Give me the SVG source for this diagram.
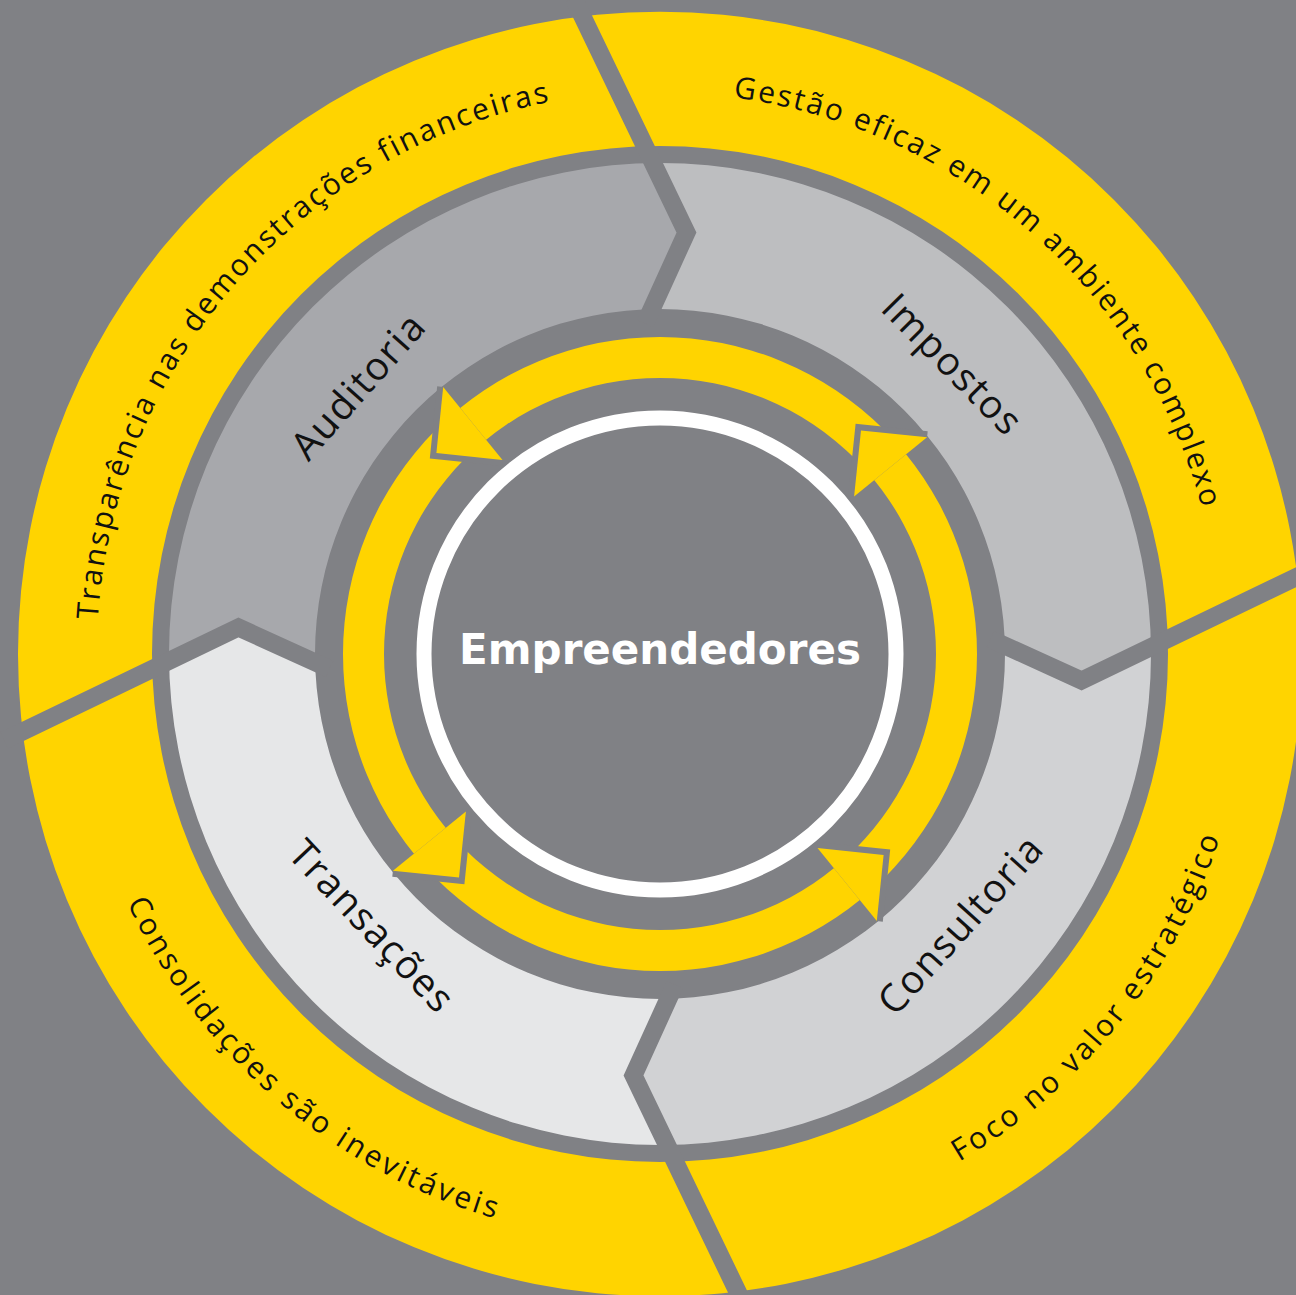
<svg xmlns="http://www.w3.org/2000/svg" xmlns:xlink="http://www.w3.org/1999/xlink" width="1296" height="1295" viewBox="0 0 1296 1295">
<defs>
<style>
.bg{fill:#808185}
.yel{fill:#ffd400}
.div{fill:none;stroke:#808185;stroke-width:18;stroke-linejoin:miter;stroke-miterlimit:10}
.seg-label{font-family:"Open Sans","Noto Sans",sans-serif;font-size:39px;letter-spacing:1.5px;fill:#111}
.ring-label{font-family:"Open Sans","Noto Sans",sans-serif;font-size:30px;letter-spacing:2.3px;fill:#111}
.ring-label.bot{letter-spacing:3.1px}
.center{font-family:"DejaVu Sans",sans-serif;font-weight:bold;font-size:42px;fill:#fff}
</style>
<clipPath id="segClip"><path clip-rule="evenodd" d="M169,654 a491,491 0 1,0 982,0 a491,491 0 1,0 -982,0 Z M315,654 a345,345 0 1,0 690,0 a345,345 0 1,0 -690,0 Z"/></clipPath>
<polyline id="chevron" class="div" points="573.7,-1.8 686.5,232.5 645.1,323.5"/>
<g id="arrowhead">
<polygon class="bg" points="443.2,386.9 437.2,386.3 429.8,458.4 501.9,465.9 502.5,459.9"/>
<polygon class="yel" points="436.4,453.0 443.2,386.9 502.5,459.9"/>
</g>
<path id="p1" d="M368.4,1135.6 A563,563 0 1 1 1098.7,301.2"/>
<path id="p2" d="M180.7,362.6 A561,561 0 1 1 1010.7,1091.8"/>
<path id="p3" d="M286.0,200.3 A588,588 0 1 0 1166.6,952.4"/>
<path id="p4" d="M217.5,1042.7 A589,589 0 1 0 942.8,137.4"/>
</defs>
<rect class="bg" x="0" y="0" width="1296" height="1295"/>
<g id="outer-ring">
<path class="yel" fill-rule="evenodd" d="M18,654 a642,642 0 1,0 1284,0 a642,642 0 1,0 -1284,0 Z M152,654 a508,508 0 1,0 1016,0 a508,508 0 1,0 -1016,0 Z"/>
</g>
<g id="node-auditoria">
<polygon clip-path="url(#segClip)" fill="#a7a8ac" points="660,654 347.7,677.2 238.5,627.5 4.2,740.3 -400,-400 573.7,-1.8 686.5,232.5 636.8,341.7"/>
</g>
<g id="node-impostos">
<polygon clip-path="url(#segClip)" fill="#bdbec0" points="660,654 636.8,341.7 686.5,232.5 573.7,-1.8 1700,-400 1315.8,567.7 1081.5,680.5 972.3,630.8"/>
</g>
<g id="node-consultoria">
<polygon clip-path="url(#segClip)" fill="#d1d2d4" points="660,654 972.3,630.8 1081.5,680.5 1315.8,567.7 1700,1700 746.3,1309.8 633.5,1075.5 683.2,966.3"/>
</g>
<g id="node-transacoes">
<polygon clip-path="url(#segClip)" fill="#e6e7e8" points="660,654 683.2,966.3 633.5,1075.5 746.3,1309.8 -400,1700 4.2,740.3 238.5,627.5 347.7,677.2"/>
</g>
<g id="dividers">
<use xlink:href="#chevron"/>
<use xlink:href="#chevron" transform="rotate(90 660 654)"/>
<use xlink:href="#chevron" transform="rotate(180 660 654)"/>
<use xlink:href="#chevron" transform="rotate(270 660 654)"/>
</g>
<g id="connectors">
<path class="yel" fill-rule="evenodd" d="M343,654 a317,317 0 1,0 634,0 a317,317 0 1,0 -634,0 Z M384,654 a276,276 0 1,0 552,0 a276,276 0 1,0 -552,0 Z"/>
<use xlink:href="#arrowhead"/>
<use xlink:href="#arrowhead" transform="rotate(90 660 654)"/>
<use xlink:href="#arrowhead" transform="rotate(180 660 654)"/>
<use xlink:href="#arrowhead" transform="rotate(270 660 654)"/>
</g>
<g id="node-center">
<circle cx="660" cy="654" r="236" fill="none" stroke="#fff" stroke-width="15"/>
<text class="center" x="660" y="664" text-anchor="middle">Empreendedores</text>
</g>
<g id="labels">
<text class="seg-label" text-anchor="middle" transform="translate(660,654) rotate(311.6) translate(0,-390)">Auditoria</text>
<text class="seg-label" text-anchor="middle" transform="translate(660,654) rotate(45.3) translate(0,-398)">Impostos</text>
<text class="seg-label" text-anchor="middle" transform="translate(660,654) rotate(46.6) translate(0,410)">Transações</text>
<text class="seg-label" text-anchor="middle" transform="translate(660,654) rotate(-48) translate(0,418)">Consultoria</text>
</g>
<g id="ring-labels">
<text class="ring-label" text-anchor="middle"><textPath xlink:href="#p1" startOffset="50%">Transparência nas demonstrações financeiras</textPath></text>
<text class="ring-label" text-anchor="middle"><textPath xlink:href="#p2" startOffset="50%">Gestão eficaz em um ambiente complexo</textPath></text>
<text class="ring-label bot" text-anchor="middle"><textPath xlink:href="#p3" startOffset="50%">Consolidações são inevitáveis</textPath></text>
<text class="ring-label bot" text-anchor="middle"><textPath xlink:href="#p4" startOffset="50%">Foco no valor estratégico</textPath></text>
</g>
</svg>
